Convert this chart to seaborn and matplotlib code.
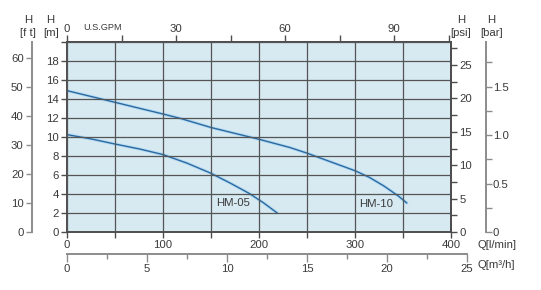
import numpy as np
import pandas as pd
import matplotlib
matplotlib.use("Agg")
import matplotlib.pyplot as plt
import matplotlib.ticker as mticker
import seaborn as sns

# pump curves, flow Q in l/min, head H in m
hm05_q = [0, 25, 50, 75, 100, 125, 150, 170, 190, 205, 219]
hm05_h = [10.25, 9.8, 9.26, 8.75, 8.15, 7.25, 6.18, 5.15, 4.05, 3.05, 2.0]
hm10_q = [0, 50, 100, 118, 150, 200, 232, 250, 300, 315, 330, 345, 354]
hm10_h = [14.88, 13.65, 12.42, 11.96, 11.0, 9.76, 8.9, 8.3, 6.45, 5.75, 4.85, 3.8, 3.05]
models = ["HM-05", "HM-10"]

# axis ticks
lpm_ticks = [0, 100, 200, 300, 400]
m3h_ticks = [0, 5, 10, 15, 20, 25]
gpm_ticks = [0, 30, 60, 90]
m_ticks = [0, 2, 4, 6, 8, 10, 12, 14, 16, 18]
ft_ticks = [0, 10, 20, 30, 40, 50, 60]
psi_ticks = [0, 5, 10, 15, 20, 25]
bar_ticks = [0, 0.5, 1.0, 1.5]
bar_labels = ["0", "0.5", "1.0", "1.5"]

df = pd.concat([
    pd.DataFrame({"Q": hm05_q, "H": hm05_h, "model": models[0]}),
    pd.DataFrame({"Q": hm10_q, "H": hm10_h, "model": models[1]}),
])

sns.set_style("ticks")
plt.rcParams["font.family"] = ["Liberation Sans", "DejaVu Sans"]
plt.rcParams["font.size"] = 8.2

TXT = "#3a3a3a"
DARK = "#4d4d4d"
GREY = "#8c8c8c"
W, H = 541, 290

fig = plt.figure(figsize=(W / 100, H / 100), dpi=100)
# main axes: x 67..451 px, y 42..232 px
ax = fig.add_axes([67 / W, 1 - 232 / H, 384 / W, 190 / H])
ax.set_facecolor("#d7e9f1")

# light halo under the curves, then the curves
sns.lineplot(data=df, x="Q", y="H", hue="model", palette=["#b3dbf3", "#b3dbf3"],
             lw=2.3, legend=False, ax=ax, sort=False)
sns.lineplot(data=df, x="Q", y="H", hue="model", palette=["#2b69a0", "#2b69a0"],
             lw=1.0, legend=False, ax=ax, sort=False)

ax.set_xlim(0, 400)
ax.set_ylim(0, 20)
ax.set_xlabel("")
ax.set_ylabel("")
ax.set_xticks(np.arange(0, 401, 50), minor=True)
ax.set_xticks(lpm_ticks)
ax.set_yticks(np.arange(0, 21, 2), minor=True)
ax.set_yticks(m_ticks)
ax.grid(True, which="both", color="#555555", lw=0.9)
ax.set_axisbelow(False)
for s in ax.spines.values():
    s.set_color(DARK)
    s.set_linewidth(1.4)
ax.tick_params(which="both", direction="out", length=4, width=1, color=DARK,
               labelcolor=TXT, pad=2)

# labels on curves
ax.text(173, 3.05, "HM-05", ha="center", va="center", color=TXT, fontsize=8.2)
ax.text(322, 2.95, "HM-10", ha="center", va="center", color=TXT, fontsize=8.2)

# top: US GPM
gpm = ax.secondary_xaxis("top", functions=(lambda q: q / 3.78541, lambda g: g * 3.78541))
gpm.set_xticks(gpm_ticks)
gpm.set_xticks([15, 45, 75, 105], minor=True)
gpm.tick_params(which="both", direction="out", length=5, width=1, color=DARK,
                labelcolor=TXT, pad=1)
gpm.spines["top"].set_color(DARK)
gpm.spines["top"].set_linewidth(1.4)

# right: psi
psi = ax.secondary_yaxis("right", functions=(lambda m: m / 0.70307, lambda p: p * 0.70307))
psi.set_yticks(psi_ticks)
psi.set_yticks(np.arange(2.5, 28.5, 5), minor=True)
psi.tick_params(which="both", direction="out", length=4, width=1, color=DARK,
                labelcolor=TXT, pad=2)
psi.spines["right"].set_color(DARK)
psi.spines["right"].set_linewidth(1.4)

# far right: bar
bar = ax.secondary_yaxis(1 + 35 / 384, functions=(lambda m: m / 10.197, lambda b: b * 10.197))
bar.yaxis.set_major_locator(mticker.FixedLocator(bar_ticks))
bar.yaxis.set_major_formatter(mticker.FixedFormatter(bar_labels))
bar.set_yticks([0.25, 0.75, 1.25, 1.75], minor=True)
bar.tick_params(which="both", direction="out", length=4, width=1, color=GREY,
                labelcolor=TXT, pad=1)
bar.spines["right"].set_color(GREY)
bar.spines["right"].set_linewidth(1.4)

# far left: ft
ft = ax.secondary_yaxis(-35 / 384, functions=(lambda m: m * 3.28084, lambda f: f / 3.28084))
ft.set_yticks(ft_ticks)
ft.tick_params(which="both", direction="out", length=4, width=1, color=GREY,
               labelcolor=TXT, pad=2)
ft.spines["left"].set_color(GREY)
ft.spines["left"].set_linewidth(1.4)

# bottom: m3/h on its own strip, 0..25 spans 67..467 px
ax2 = fig.add_axes([67 / W, 1 - 254 / H, 400 / W, 0.001])
ax2.set_facecolor("none")
for k in ["top", "left", "right"]:
    ax2.spines[k].set_visible(False)
ax2.spines["bottom"].set_color(GREY)
ax2.spines["bottom"].set_linewidth(1.4)
ax2.set_xlim(0, 25)
ax2.set_yticks([])
ax2.set_xticks(m3h_ticks)
ax2.set_xticks(np.arange(2.5, 25, 5), minor=True)
ax2.tick_params(which="major", direction="out", length=6, width=1, color=GREY,
                labelcolor=TXT, pad=1)
ax2.tick_params(which="minor", direction="out", length=3.5, width=1, color=GREY)


def ftext(x, y, s, **kw):
    kw.setdefault("color", TXT)
    kw.setdefault("fontsize", 8.2)
    fig.text(x / W, 1 - y / H, s, **kw)


ftext(28, 20, "H", ha="center", va="center")
ftext(28, 33, "[f t]", ha="center", va="center")
ftext(50, 20, "H", ha="center", va="center")
ftext(51, 33, "[m]", ha="center", va="center")
ftext(83, 27, "U.S.GPM", ha="left", va="center", fontsize=6.6)
ftext(461, 20, "H", ha="center", va="center")
ftext(461, 33, "[psi]", ha="center", va="center")
ftext(491, 20, "H", ha="center", va="center")
ftext(492, 33, "[bar]", ha="center", va="center")
ftext(478, 245, "Q[l/min]", ha="left", va="center")
ftext(478, 265, "Q[m³/h]", ha="left", va="center")

fig.savefig("out.png", dpi=100)
